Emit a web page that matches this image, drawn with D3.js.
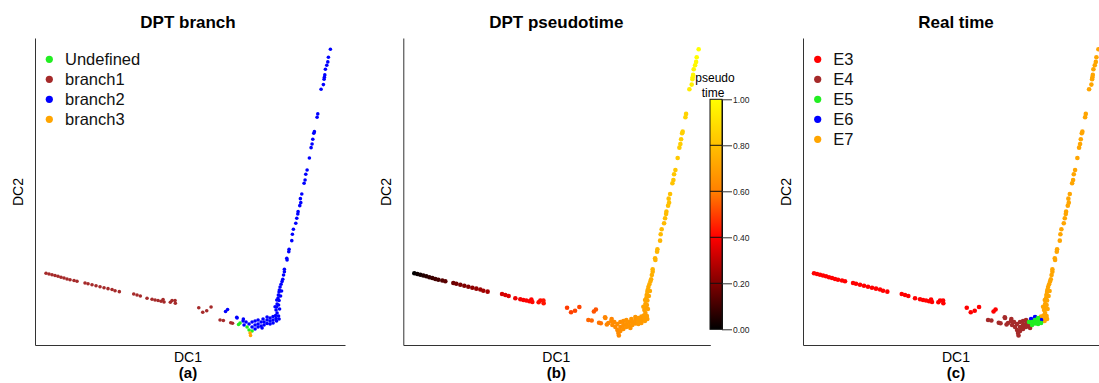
<!DOCTYPE html>
<html>
<head>
<meta charset="utf-8">
<script src="https://cdn.jsdelivr.net/npm/d3@7"></script>
<style>
  body { margin: 0; background: #fff; }
  svg { display: block; font-family: Arial, "Liberation Sans", sans-serif; }
</style>
</head>
<body>
<svg id="chart" width="1099" height="383"></svg>
<script>
// Diffusion components of each cell (left arm, bottom cluster, rising arm)
const dc1 = [
  3.67, 4.67, 5.67, 6.67, 7.67, 8.67, 9.67, 10.67, 11.67, 13.0, 14.0, 16.67, 17.67, 19.0, 20.33, 21.67,
  23.0, 24.33, 25.67, 26.67, 28.1, 32.9, 34.0, 35.1, 37.33, 39.0, 40.0, 41.0, 42.0, 43.0, 42.67, 45.1,
  45.67, 46.77, 46.67, 54.57, 55.9, 57.23, 58.67, 63.5, 64.17, 61.67, 62.77, 65.23, 65.83, 67.23, 69.43,
  67.33, 68.33, 67.83, 69.33, 69.67, 70.33, 70.67, 71.33, 71.67, 71.83, 72.33, 71.33, 72.33, 72.33, 73.33,
  73.33, 73.33, 74.33, 74.33, 74.33, 75.33, 75.33, 76.0, 76.33, 76.33, 77.33, 77.33, 77.33, 78.33, 78.33,
  78.33, 79.33, 79.33, 79.33, 80.17, 80.33, 80.5, 81.17, 81.33, 75.67,
  80.67, 80.33, 80.5, 80.0, 80.67, 80.57, 81.0, 81.1, 81.33, 81.43, 81.67, 82.0, 82.33, 82.57, 82.83, 83.1,
  83.1, 83.9, 84.0, 84.57, 84.67, 85.57, 85.77, 86.1, 86.9, 87.23, 87.57, 87.67, 88.23, 88.57, 88.43, 88.9,
  89.67, 90.0, 90.23, 90.67, 91.43, 92.0, 92.33, 92.57, 92.9, 93.1, 94.0, 94.23, 95.33, 96.1, 96.33, 96.43,
  96.57, 96.77, 97.23, 97.57, 97.77, 98.43, 81.17, 81.33, 81.83, 81.5, 82.17
];
const dc2 = [
  23.9, 23.67, 23.43, 23.17, 22.9, 22.6, 22.33, 22.0, 21.73, 21.47, 21.23, 20.67, 20.4, 20.07, 19.73, 19.43,
  19.07, 18.77, 18.5, 18.1, 17.77, 17.0, 16.67, 16.33, 15.57, 15.23, 15.0, 14.83, 14.57, 14.33, 15.17, 14.23,
  14.83, 13.9, 14.83, 12.43, 10.9, 11.43, 12.67, 11.17, 11.83, 8.33, 8.17, 7.43, 7.23, 9.23, 8.67,
  9.0, 7.33, 6.83, 8.0, 6.67, 7.67, 6.0, 5.0, 4.0, 3.17, 4.67, 7.0, 7.67, 6.0, 8.0,
  6.67, 5.33, 8.33, 7.0, 6.0, 7.67, 6.33, 8.67, 7.67, 6.67, 9.33, 8.33, 7.17, 9.0, 8.0,
  7.0, 9.5, 8.33, 7.33, 9.83, 8.83, 8.0, 9.67, 8.67, 5.67,
  10.67, 11.67, 12.67, 12.77, 13.67, 15.0, 15.67, 16.67, 17.67, 18.33, 19.33, 20.23, 21.17, 21.9, 23.33, 24.43,
  25.23, 28.9, 28.33, 31.1, 31.9, 34.77, 36.9, 38.57, 40.57, 42.23, 43.67, 44.43, 46.43, 47.43, 48.77, 50.33,
  53.9, 55.0, 56.9, 58.33, 62.33, 65.77, 67.0, 68.57, 70.57, 71.1, 75.9, 77.0, 85.23, 86.77, 88.57, 89.23,
  90.0, 91.9, 93.23, 94.33, 95.9, 98.57, 13.33, 14.83, 16.33, 12.0, 18.0
];
// 0 = Undefined, 1..3 = branch1..branch3
const branchIndex = [
  1, 1, 1, 1, 1, 1, 1, 1, 1, 1, 1, 1, 1, 1, 1, 1,
  1, 1, 1, 1, 1, 1, 1, 1, 1, 1, 1, 1, 1, 1, 1, 1,
  1, 1, 1, 1, 1, 1, 1, 2, 2, 1, 1, 1, 1, 2, 2,
  2, 0, 0, 2, 2, 2, 0, 0, 3, 3, 0, 2, 2, 2, 2,
  2, 2, 2, 2, 2, 2, 2, 2, 2, 2, 2, 2, 2, 2, 2,
  2, 2, 2, 2, 2, 2, 2, 2, 2, 2,
  2, 2, 2, 2, 2, 2, 2, 2, 2, 2, 2, 2, 2, 2, 2, 2,
  2, 2, 2, 2, 2, 2, 2, 2, 2, 2, 2, 2, 2, 2, 2, 2,
  2, 2, 2, 2, 2, 2, 2, 2, 2, 2, 2, 2, 2, 2, 2, 2,
  2, 2, 2, 2, 2, 2, 2, 2, 2, 2, 2
];
const pseudotime = [
  0.00, 0.02, 0.03, 0.05, 0.06, 0.08, 0.09, 0.10, 0.11, 0.13, 0.14, 0.17, 0.18, 0.19, 0.20, 0.21,
  0.22, 0.23, 0.24, 0.25, 0.26, 0.33, 0.34, 0.35, 0.37, 0.38, 0.39, 0.39, 0.40, 0.41, 0.40, 0.42,
  0.42, 0.43, 0.43, 0.49, 0.50, 0.51, 0.51, 0.53, 0.53, 0.56, 0.56, 0.58, 0.58, 0.60, 0.61,
  0.62, 0.62, 0.62, 0.63, 0.63, 0.63, 0.63, 0.63, 0.63, 0.63, 0.64, 0.64, 0.64, 0.64, 0.65,
  0.65, 0.65, 0.66, 0.66, 0.66, 0.66, 0.66, 0.67, 0.67, 0.67, 0.67, 0.67, 0.67, 0.68, 0.68,
  0.68, 0.68, 0.68, 0.68, 0.69, 0.69, 0.69, 0.69, 0.69, 0.66,
  0.69, 0.70, 0.70, 0.71, 0.71, 0.72, 0.72, 0.72, 0.73, 0.73, 0.73, 0.74, 0.74, 0.74, 0.75, 0.75,
  0.76, 0.76, 0.76, 0.77, 0.77, 0.77, 0.78, 0.78, 0.78, 0.79, 0.79, 0.79, 0.80, 0.80, 0.80, 0.80,
  0.81, 0.81, 0.82, 0.82, 0.83, 0.84, 0.84, 0.84, 0.85, 0.85, 0.86, 0.86, 0.94, 0.95, 0.96, 0.96,
  0.97, 0.97, 0.98, 0.98, 0.99, 1.00, 0.70, 0.71, 0.72, 0.70, 0.73
];
// 0..4 = E3..E7
const stageIndex = [
  0, 0, 0, 0, 0, 0, 0, 0, 0, 0, 0, 0, 0, 0, 0, 0,
  0, 0, 0, 0, 0, 0, 0, 0, 0, 0, 0, 0, 0, 0, 0, 0,
  0, 0, 0, 0, 0, 0, 0, 0, 0, 1, 1, 1, 1, 1, 1,
  1, 1, 1, 1, 1, 1, 1, 1, 1, 1, 1, 1, 1, 1, 1,
  1, 1, 1, 1, 1, 2, 1, 3, 2, 2, 3, 2, 2, 2, 2,
  2, 4, 3, 2, 4, 4, 4, 4, 4, 1,
  4, 4, 4, 4, 4, 4, 4, 4, 4, 4, 4, 4, 4, 4, 4, 4,
  4, 4, 4, 4, 4, 4, 4, 4, 4, 4, 4, 4, 4, 4, 4, 4,
  4, 4, 4, 4, 4, 4, 4, 4, 4, 4, 4, 4, 4, 4, 4, 4,
  4, 4, 4, 4, 4, 4, 4, 4, 4, 4, 4
];

const branchLabels = ["Undefined", "branch1", "branch2", "branch3"];
const branchColors = ["#22ee22", "#a52a2a", "#0000ff", "#ffa500"];
const stageLabels = ["E3", "E4", "E5", "E6", "E7"];
const stageColors = ["#ff0000", "#a52a2a", "#22ee22", "#0000ff", "#ffa500"];
const ptTicks = [0, 0.2, 0.4, 0.6, 0.8, 1.0];
const heatColors = ["#000000", "#800000", "#ff0000", "#ff8000", "#ffc000", "#ffff00"];

const cells = dc1.map((v, i) => ({
  x: v, y: dc2[i], branch: branchIndex[i], pt: pseudotime[i], stage: stageIndex[i]
}));

const svg = d3.select("#chart");
const plotTop = 38, plotH = 307, fullW = 310;
const x = d3.scaleLinear().domain([0, 103.3]).range([0, fullW]);
const y = d3.scaleLinear().domain([0, 102.3]).range([plotH, 0]);
const heat = d3.scaleLinear().domain(ptTicks).range(heatColors);

// drawing order inside each panel (later = on top)
const branchRank = [2, 1, 0, 3];
const stageRank = [0, 1, 4, 3, 2];

const panels = [
  { left: 35, width: 310, title: "DPT branch", tag: "(a)", r: 1.8,
    fill: d => branchColors[d.branch], rank: d => branchRank[d.branch],
    legend: { labels: branchLabels, colors: branchColors, dotX: 14.3, textX: 30 } },
  { left: 403.3, width: 307, title: "DPT pseudotime", tag: "(b)", r: 2.3,
    fill: d => heat(d.pt), rank: d => d.pt },
  { left: 803, width: 296, title: "Real time", tag: "(c)", r: 2.3,
    fill: d => stageColors[d.stage], rank: d => stageRank[d.stage],
    legend: { labels: stageLabels, colors: stageColors, dotX: 14.7, textX: 30.3 } }
];

panels.forEach(p => {
  const g = svg.append("g").attr("transform", `translate(${p.left},${plotTop})`);
  const cx = 153;

  g.append("text").attr("x", cx).attr("y", -10)
    .attr("text-anchor", "middle").attr("font-size", 17).attr("font-weight", "bold")
    .attr("fill", "#000").text(p.title);

  // axis lines only, no ticks
  const xAxisScale = x.copy().domain([0, x.invert(p.width)]).range([0, p.width]);
  const axX = g.append("g").attr("transform", `translate(0,${plotH})`)
    .call(d3.axisBottom(xAxisScale).tickValues([]).tickSizeOuter(0));
  const axY = g.append("g")
    .call(d3.axisLeft(y).tickValues([]).tickSizeOuter(0));
  [axX, axY].forEach(a => a.select(".domain").attr("stroke", "#333").attr("stroke-width", 1));

  g.append("text").attr("x", cx).attr("y", plotH + 16.5)
    .attr("text-anchor", "middle").attr("font-size", 14).attr("fill", "#000").text("DC1");
  g.append("text").attr("x", cx).attr("y", plotH + 32.5)
    .attr("text-anchor", "middle").attr("font-size", 15).attr("font-weight", "bold")
    .attr("fill", "#000").text(p.tag);
  g.append("text")
    .attr("transform", `translate(-12,${154}) rotate(-90)`)
    .attr("text-anchor", "middle").attr("font-size", 14).attr("fill", "#000").text("DC2");

  const sorted = cells.slice().sort((a, b) => p.rank(a) - p.rank(b));
  g.append("g").selectAll("circle").data(sorted).join("circle")
    .attr("cx", d => x(d.x)).attr("cy", d => y(d.y))
    .attr("r", p.r).attr("fill", p.fill);

  if (p.legend) {
    const lg = g.append("g").selectAll("g").data(p.legend.labels).join("g")
      .attr("transform", (d, i) => `translate(0,${21.3 + 20 * i})`);
    lg.append("circle").attr("cx", p.legend.dotX).attr("cy", 0).attr("r", 3.6)
      .attr("fill", (d, i) => p.legend.colors[i]);
    lg.append("text").attr("x", p.legend.textX).attr("y", 0).attr("dy", "0.36em")
      .attr("font-size", 16.5).attr("fill", "#111").text(d => d);
  }
});

// colour bar for pseudotime
const defs = svg.append("defs");
const grad = defs.append("linearGradient").attr("id", "heatGrad")
  .attr("x1", 0).attr("y1", 1).attr("x2", 0).attr("y2", 0);
ptTicks.forEach((t, i) => grad.append("stop").attr("offset", t).attr("stop-color", heatColors[i]));

const barX = 710, barW = 12;
const ly = d3.scaleLinear().domain([0, 1]).range([329.3, 99.3]);
const cb = svg.append("g").attr("transform", `translate(${barX},0)`);
cb.append("rect").attr("x", 0).attr("y", ly(1)).attr("width", barW).attr("height", ly(0) - ly(1))
  .attr("fill", "url(#heatGrad)");
cb.selectAll("line.sep").data(ptTicks.slice(1, -1)).join("line").attr("class", "sep")
  .attr("x1", 0).attr("x2", barW).attr("y1", d => ly(d)).attr("y2", d => ly(d))
  .attr("stroke", "#111").attr("stroke-width", 1);
cb.append("rect").attr("x", 0).attr("y", ly(1)).attr("width", barW).attr("height", ly(0) - ly(1))
  .attr("fill", "none").attr("stroke", "#111").attr("stroke-width", 1);
const cbAxis = cb.append("g").attr("transform", `translate(${barW},0)`)
  .call(d3.axisRight(ly).tickValues(ptTicks).tickFormat(d3.format(".2f"))
    .tickSize(10).tickPadding(1).tickSizeOuter(0));
cbAxis.select(".domain").attr("stroke", "#111");
cbAxis.selectAll(".tick line").attr("stroke", "#333");
cbAxis.selectAll(".tick text").attr("font-size", 8.5).attr("fill", "#222")
  .attr("font-family", "Arial, 'Liberation Sans', sans-serif");
cb.append("text").attr("x", 5).attr("y", 82).attr("text-anchor", "middle")
  .attr("font-size", 12).attr("fill", "#000").text("pseudo");
cb.append("text").attr("x", 3).attr("y", 96.5).attr("text-anchor", "middle")
  .attr("font-size", 12).attr("fill", "#000").text("time");
</script>
</body>
</html>
